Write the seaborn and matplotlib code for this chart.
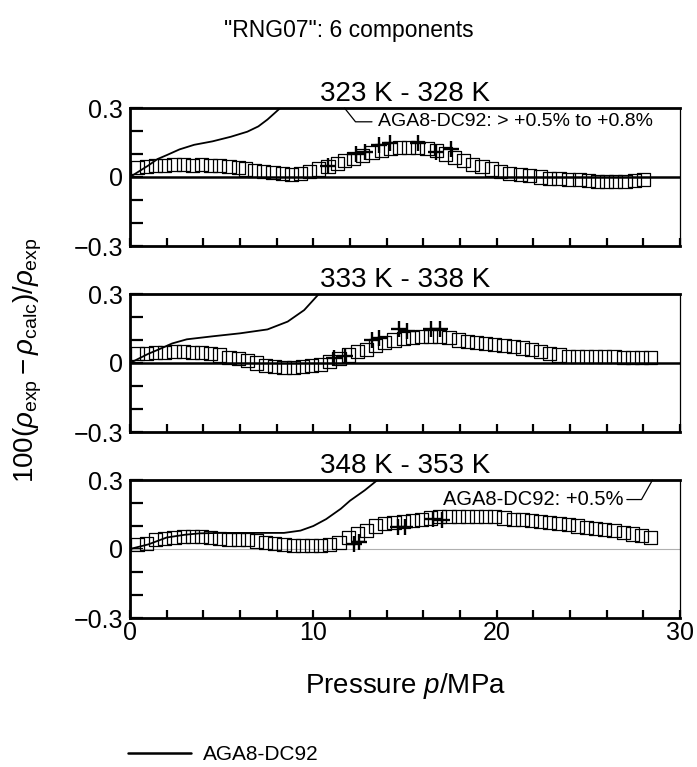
import numpy as np
import pandas as pd
import matplotlib
matplotlib.use("Agg")
import matplotlib.pyplot as plt
from matplotlib.ticker import MultipleLocator
from matplotlib.lines import Line2D
import seaborn as sns

# ---------------- data ----------------
panel_titles = ["323 K - 328 K", "333 K - 338 K", "348 K - 353 K"]

# panel 1 (323 K - 328 K)
sq1_p = [0.4, 0.9, 1.4, 1.9, 2.4, 2.9, 3.4, 3.9, 4.4, 4.9, 5.4, 5.9, 6.3, 6.8, 7.3, 7.8,
         8.3, 8.8, 9.3, 9.8, 10.3, 10.8, 11.3, 11.7, 12.2, 12.7, 13.2, 13.7, 14.2, 14.7,
         15.2, 15.7, 16.2, 16.7, 17.2, 17.7, 18.2, 18.7, 19.2, 19.7, 20.2, 20.7, 21.3,
         21.8, 22.4, 22.9, 23.4, 23.9, 24.5, 25.0, 25.5, 26.0, 26.5, 27.0, 27.5, 28.0]
sq1_d = [0.04, 0.045, 0.05, 0.05, 0.055, 0.055, 0.05, 0.055, 0.05, 0.05, 0.045, 0.04,
         0.035, 0.03, 0.025, 0.02, 0.015, 0.012, 0.015, 0.025, 0.035, 0.045, 0.06, 0.07,
         0.08, 0.095, 0.105, 0.115, 0.125, 0.13, 0.13, 0.13, 0.125, 0.115, 0.1, 0.085,
         0.07, 0.055, 0.045, 0.035, 0.025, 0.015, 0.01, 0.005, 0.0, -0.005, -0.005,
         -0.01, -0.01, -0.015, -0.02, -0.02, -0.02, -0.02, -0.015, -0.01]
pl1_p = [10.8, 12.3, 12.8, 13.6, 14.2, 15.7, 16.7, 17.5]
pl1_d = [0.05, 0.10, 0.11, 0.14, 0.15, 0.15, 0.11, 0.12]
aga1_p = [0, 0.5, 1.0, 1.5, 2.0, 2.7, 3.5, 4.5, 5.5, 6.4, 7.0, 7.5, 8.2, 8.6]
aga1_d = [0, 0.025, 0.05, 0.078, 0.095, 0.12, 0.14, 0.155, 0.175, 0.197, 0.22, 0.25, 0.30, 0.34]

# panel 2 (333 K - 338 K)
sq2_p = [0.4, 0.9, 1.4, 1.9, 2.4, 2.9, 3.4, 3.9, 4.4, 4.9, 5.4, 5.9, 6.4, 6.9, 7.4, 7.9,
         8.4, 8.9, 9.4, 9.9, 10.4, 10.9, 11.4, 11.9, 12.4, 12.9, 13.4, 13.9, 14.4, 14.9,
         15.4, 15.9, 16.4, 16.9, 17.4, 17.9, 18.4, 18.9, 19.4, 19.9, 20.4, 20.9, 21.4,
         21.9, 22.4, 22.9, 23.4, 23.9, 24.4, 24.9, 25.4, 25.9, 26.4, 26.9, 27.4, 27.9, 28.4]
sq2_d = [0.04, 0.04, 0.045, 0.045, 0.05, 0.05, 0.045, 0.045, 0.04, 0.035, 0.025, 0.02,
         0.01, 0.0, -0.01, -0.015, -0.02, -0.02, -0.015, -0.01, -0.005, 0.005, 0.02,
         0.035, 0.05, 0.06, 0.075, 0.09, 0.1, 0.105, 0.11, 0.115, 0.115, 0.115, 0.11,
         0.1, 0.095, 0.09, 0.085, 0.08, 0.075, 0.07, 0.065, 0.06, 0.05, 0.04, 0.035,
         0.03, 0.03, 0.03, 0.03, 0.028, 0.028, 0.025, 0.025, 0.025, 0.025]
pl2_p = [11.1, 11.7, 13.2, 13.6, 14.7, 15.1, 16.4, 16.9]
pl2_d = [0.02, 0.03, 0.10, 0.11, 0.15, 0.14, 0.15, 0.15]
aga2_p = [0, 0.5, 1.0, 1.6, 2.3, 3.1, 4.5, 6.0, 7.5, 8.6, 9.5, 10.3, 10.7]
aga2_d = [0, 0.02, 0.04, 0.06, 0.085, 0.103, 0.116, 0.129, 0.146, 0.18, 0.23, 0.30, 0.34]

# panel 3 (348 K - 353 K)
sq3_p = sq2_p
sq3_d = [0.02, 0.025, 0.04, 0.045, 0.05, 0.055, 0.055, 0.055, 0.05, 0.045, 0.04, 0.04,
         0.04, 0.035, 0.03, 0.025, 0.02, 0.015, 0.015, 0.015, 0.015, 0.02, 0.03, 0.05,
         0.065, 0.08, 0.1, 0.11, 0.115, 0.12, 0.125, 0.13, 0.135, 0.14, 0.14, 0.14,
         0.14, 0.14, 0.14, 0.14, 0.135, 0.13, 0.13, 0.125, 0.12, 0.115, 0.11, 0.105,
         0.1, 0.095, 0.09, 0.085, 0.08, 0.07, 0.065, 0.06, 0.05]
pl3_p = [12.2, 12.5, 14.6, 15.0, 16.5, 17.0]
pl3_d = [0.02, 0.03, 0.095, 0.095, 0.13, 0.125]
aga3_p = [0, 0.5, 1.0, 1.5, 2.0, 3.0, 3.8, 5.0, 6.0, 7.0, 8.4, 9.3, 10.0, 10.7, 11.5,
          12.0, 12.8, 13.5, 14.0]
aga3_d = [0, 0.01, 0.02, 0.035, 0.05, 0.062, 0.068, 0.07, 0.07, 0.07, 0.07, 0.08, 0.1,
          0.13, 0.175, 0.21, 0.255, 0.30, 0.33]

# annotation texts and leader lines
note1_text = "AGA8-DC92: > +0.5% to +0.8%"
note1_leader_p = [11.7, 12.3, 13.2]
note1_leader_d = [0.30, 0.24, 0.24]
note3_text = "AGA8-DC92: +0.5%"
note3_leader_p = [27.1, 27.9, 28.5]
note3_leader_d = [0.215, 0.215, 0.30]

squares = [(sq1_p, sq1_d), (sq2_p, sq2_d), (sq3_p, sq3_d)]
pluses = [(pl1_p, pl1_d), (pl2_p, pl2_d), (pl3_p, pl3_d)]
agas = [(aga1_p, aga1_d), (aga2_p, aga2_d), (aga3_p, aga3_d)]

# ---------------- style ----------------
sns.set_theme(style="white")
plt.rcParams["font.family"] = ["Liberation Sans", "DejaVu Sans"]
plt.rcParams["mathtext.fontset"] = "custom"
plt.rcParams["mathtext.rm"] = "Liberation Sans"
plt.rcParams["mathtext.it"] = "Liberation Sans:italic"
plt.rcParams["mathtext.bf"] = "Liberation Sans:bold"
for key in ["text.color", "axes.labelcolor", "xtick.color", "ytick.color",
            "axes.edgecolor"]:
    plt.rcParams[key] = "black"

fig = plt.figure(figsize=(6.97, 7.67), dpi=100)
left, width, height = 130 / 697, 550 / 697, 138 / 767
bottoms = [1 - 246 / 767, 1 - 432 / 767, 1 - 618 / 767]

for i in range(3):
    ax = fig.add_axes([left, bottoms[i], width, height])
    ax.set_xlim(0, 30)
    ax.set_ylim(-0.3, 0.3)

    # zero line
    if i < 2:
        ax.axhline(0, color="black", lw=1.8, zorder=1)
    else:
        ax.axhline(0, color="#b0b0b0", lw=0.8, zorder=1)

    sp, sd = squares[i]
    df_sq = pd.DataFrame({"p": sp, "d": sd})
    sns.scatterplot(data=df_sq, x="p", y="d", ax=ax, marker="s", s=90,
                    facecolors="none", edgecolors="black", linewidth=0.9, zorder=3)
    pp, pd_ = pluses[i]
    df_pl = pd.DataFrame({"p": pp, "d": pd_})
    sns.scatterplot(data=df_pl, x="p", y="d", ax=ax, marker="+", s=120,
                    color="black", linewidth=1.7, zorder=4)
    ap, ad = agas[i]
    df_ag = pd.DataFrame({"p": ap, "d": ad})
    sns.lineplot(data=df_ag, x="p", y="d", ax=ax, color="black", lw=1.3,
                 sort=False, estimator=None, zorder=2)

    ax.set_title(panel_titles[i], fontsize=20, pad=5, color="black")
    ax.set_xlabel("")
    ax.set_ylabel("")

    # spines
    for s in ["top", "left", "bottom"]:
        ax.spines[s].set_linewidth(2.0)
        ax.spines[s].set_color("black")
    ax.spines["right"].set_linewidth(0.9)
    ax.spines["right"].set_color("black")

    # ticks
    ax.set_yticks([-0.3, 0, 0.3])
    ax.set_yticklabels(["\u22120.3", "0", "0.3"])
    ax.yaxis.set_minor_locator(MultipleLocator(0.1))
    ax.set_xticks([0, 10, 20, 30])
    ax.xaxis.set_minor_locator(MultipleLocator(2))
    ax.tick_params(axis="y", which="both", direction="in", length=9, width=1.6,
                   left=True, right=False, labelsize=18, pad=5, colors="black")
    ax.tick_params(axis="x", which="both", direction="in", length=6, width=1.6,
                   bottom=True, top=False, labelsize=18, pad=2, colors="black")
    if i < 2:
        ax.tick_params(axis="x", labelbottom=False)

    if i == 0:
        ax.plot(note1_leader_p, note1_leader_d, color="black", lw=0.9, clip_on=False)
        ax.text(13.5, 0.24, note1_text, fontsize=14, va="center", ha="left")
    if i == 2:
        ax.plot(note3_leader_p, note3_leader_d, color="black", lw=0.9, clip_on=False)
        ax.text(26.9, 0.215, note3_text, fontsize=14.5, va="center", ha="right")

fig.text(0.5, 1 - 31 / 767, '"RNG07": 6 components', ha="center", va="center",
         fontsize=16.5)
fig.text(405 / 697, 1 - 686 / 767, "Pressure $p$/MPa", ha="center", va="center",
         fontsize=20)
fig.text(28 / 697, 1 - 360 / 767,
         r"$100(\rho_{\rm exp}-\rho_{\rm calc})/\rho_{\rm exp}$",
         rotation=90, ha="center", va="center", fontsize=20)

handle = Line2D([], [], color="black", lw=1.8)
fig.legend(handles=[handle], labels=["AGA8-DC92"], loc="center left",
           bbox_to_anchor=(128 / 697, 1 - 755 / 767), frameon=False,
           fontsize=15, handlelength=3.0, handletextpad=0.6, borderaxespad=0,
           borderpad=0)

fig.savefig("out.png", dpi=100)
